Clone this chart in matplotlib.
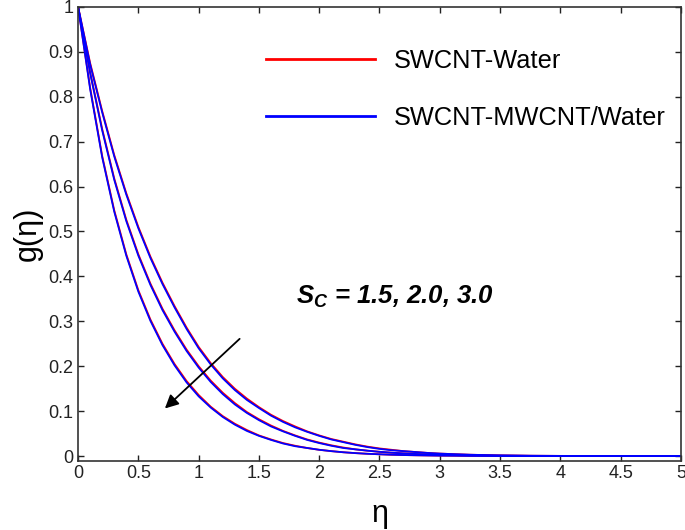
import numpy as np
import matplotlib
matplotlib.use("Agg")
import matplotlib.pyplot as plt
from matplotlib.ticker import FormatStrFormatter

plt.rcParams['font.family'] = ['Liberation Sans', 'DejaVu Sans']
plt.rcParams['mathtext.fontset'] = 'custom'
plt.rcParams['mathtext.it'] = 'Liberation Sans:italic:bold'
plt.rcParams['mathtext.rm'] = 'Liberation Sans:bold'

# data
eta = [0.0, 0.1, 0.2, 0.3, 0.4, 0.5, 0.6, 0.7, 0.8, 0.9, 1.0,
       1.1, 1.2, 1.3, 1.4, 1.5, 1.6, 1.7, 1.8, 1.9, 2.0,
       2.1, 2.2, 2.3, 2.4, 2.5, 2.6, 2.7, 2.8, 2.9, 3.0,
       3.25, 3.5, 3.75, 4.0, 4.5, 5.0]

# SWCNT-Water, Sc = 1.5, 2.0, 3.0
g_sw_15 = [1.000, 0.875, 0.768, 0.670, 0.585, 0.510, 0.444, 0.386, 0.334, 0.286, 0.243,
           0.207, 0.176, 0.150, 0.128, 0.109, 0.092, 0.078, 0.066, 0.055, 0.046,
           0.038, 0.032, 0.026, 0.021, 0.017, 0.014, 0.011, 0.009, 0.007, 0.0055,
           0.003, 0.0015, 0.0008, 0.0004, 0.0001, 0.0]
g_sw_20 = [1.000, 0.855, 0.728, 0.618, 0.526, 0.449, 0.384, 0.328, 0.280, 0.237, 0.200,
           0.168, 0.141, 0.118, 0.098, 0.082, 0.068, 0.056, 0.046, 0.037, 0.030,
           0.024, 0.019, 0.015, 0.012, 0.0095, 0.0075, 0.006, 0.0047, 0.0037, 0.0029,
           0.0015, 0.0008, 0.0004, 0.0002, 0.0, 0.0]
g_sw_30 = [1.000, 0.820, 0.668, 0.547, 0.449, 0.369, 0.304, 0.250, 0.205, 0.167, 0.136,
           0.110, 0.089, 0.072, 0.058, 0.046, 0.037, 0.029, 0.023, 0.018, 0.014,
           0.011, 0.0085, 0.0066, 0.0051, 0.004, 0.003, 0.0023, 0.0018, 0.0014, 0.001,
           0.0005, 0.0002, 0.0001, 0.0, 0.0, 0.0]

# SWCNT-MWCNT/Water, Sc = 1.5, 2.0, 3.0
g_hy_15 = [1.000, 0.872, 0.765, 0.667, 0.582, 0.507, 0.441, 0.383, 0.331, 0.283, 0.240,
           0.204, 0.173, 0.147, 0.125, 0.107, 0.090, 0.076, 0.064, 0.054, 0.045,
           0.037, 0.031, 0.025, 0.020, 0.016, 0.013, 0.011, 0.009, 0.007, 0.0055,
           0.003, 0.0015, 0.0008, 0.0004, 0.0001, 0.0]
g_hy_20 = [1.000, 0.852, 0.725, 0.615, 0.523, 0.446, 0.381, 0.325, 0.277, 0.234, 0.197,
           0.165, 0.138, 0.115, 0.096, 0.080, 0.066, 0.055, 0.045, 0.036, 0.029,
           0.023, 0.018, 0.015, 0.012, 0.0095, 0.0075, 0.006, 0.0047, 0.0037, 0.0029,
           0.0015, 0.0008, 0.0004, 0.0002, 0.0, 0.0]
g_hy_30 = [1.000, 0.817, 0.665, 0.544, 0.446, 0.366, 0.301, 0.247, 0.202, 0.164, 0.133,
           0.108, 0.087, 0.070, 0.056, 0.045, 0.036, 0.028, 0.022, 0.018, 0.014,
           0.011, 0.0085, 0.0066, 0.0051, 0.004, 0.003, 0.0023, 0.0018, 0.0014, 0.001,
           0.0005, 0.0002, 0.0001, 0.0, 0.0, 0.0]

fig = plt.figure(figsize=(6.85, 5.3), dpi=100)
ax = fig.add_axes([0.114, 0.131, 0.880, 0.856])

for g in (g_sw_15, g_sw_20, g_sw_30):
    l1, = ax.plot(eta, g, color='red', lw=1.3)
for g in (g_hy_15, g_hy_20, g_hy_30):
    l2, = ax.plot(eta, g, color='blue', lw=1.3)

ax.set_xlim(0, 5)
ax.set_ylim(-0.01, 1)
ax.set_xticks(np.arange(0, 5.01, 0.5))
ax.set_yticks(np.arange(0, 1.01, 0.1))
ax.xaxis.set_major_formatter(FormatStrFormatter('%g'))
ax.yaxis.set_major_formatter(FormatStrFormatter('%g'))
ax.tick_params(direction='in', top=True, right=True, length=4, width=1,
               labelsize=13, colors='#222222')
for s in ax.spines.values():
    s.set_color('#333333')
    s.set_linewidth(1.2)

ax.set_xlabel('η', fontsize=22, labelpad=12)
ax.set_ylabel('g(η)', fontsize=22, labelpad=4)

leg = ax.legend([l1, l2], ['SWCNT-Water', 'SWCNT-MWCNT/Water'], frameon=False,
                loc='upper left', bbox_to_anchor=(0.290, 0.935), fontsize=18.3,
                borderpad=0, handlelength=4.3, handletextpad=0.75, labelspacing=1.30)
for h in leg.get_lines():
    h.set_linewidth(2)

ax.text(1.81, 0.354, r'$S_C$ = 1.5, 2.0, 3.0', fontsize=18.5, fontweight='bold',
        fontstyle='italic', va='center')
ax.annotate('', xy=(0.72, 0.106), xytext=(1.34, 0.261),
            arrowprops=dict(arrowstyle='-|>', color='black', lw=1.3,
                            mutation_scale=20, shrinkA=0, shrinkB=0))

fig.savefig('out.png', dpi=100)
